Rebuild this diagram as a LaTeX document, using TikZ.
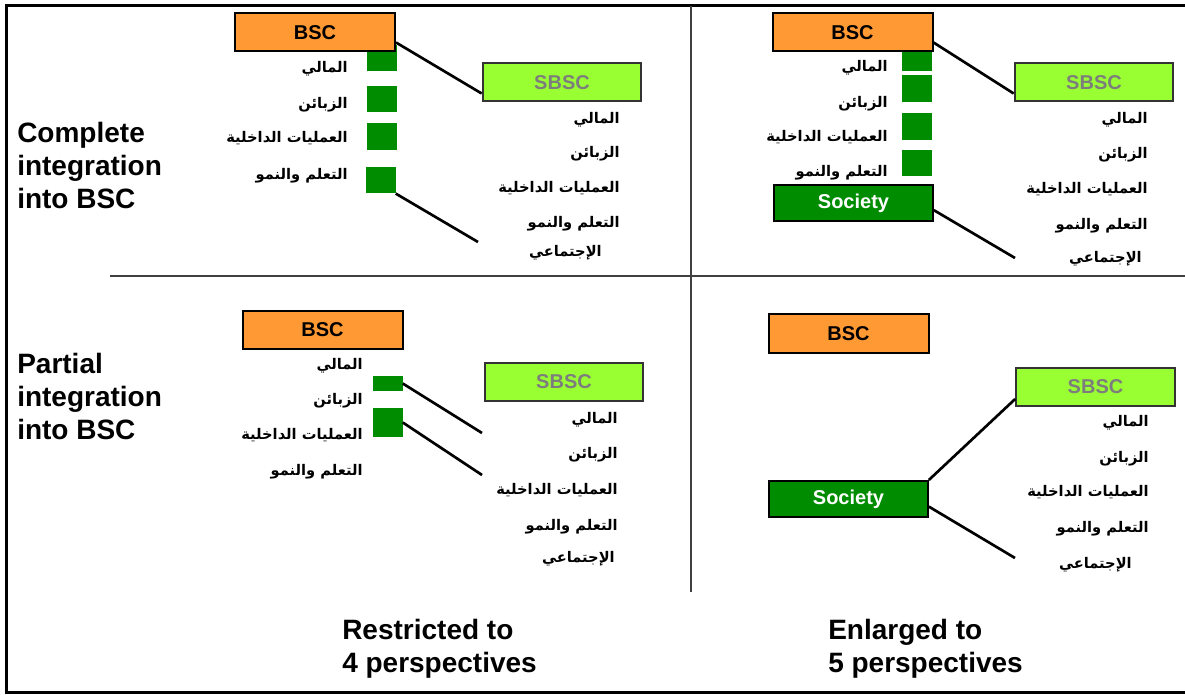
\documentclass[tikz,border=0pt]{standalone}
\usepackage{fontspec}
\setmainfont{Liberation Sans}
\newfontfamily\arabicfont[Script=Arabic]{DejaVu Sans}
\TeXXeTstate=1
\usepackage{xcolor}
\usepackage{tikz}
\usetikzlibrary{calc}

\definecolor{bscorange}{RGB}{255,153,51}
\definecolor{sbscgreen}{RGB}{153,255,51}
\definecolor{persgreen}{RGB}{0,140,0}
\definecolor{sbsctext}{RGB}{125,125,125}

\begin{document}
\begin{tikzpicture}[x=0.75pt,y=0.75pt,yscale=-1,xscale=1,
 bscbox/.style={draw=black,line width=1.5pt,fill=bscorange,minimum width=120pt,minimum height=28.5pt,inner sep=0pt,font=\bfseries\fontsize{15}{18}\selectfont},
 sbscbox/.style={draw=black!80,line width=1.5pt,fill=sbscgreen,text=sbsctext,minimum width=119pt,minimum height=28.5pt,inner sep=0pt,font=\bfseries\fontsize{15}{18}\selectfont},
 socbox/.style={draw=black,line width=1.5pt,fill=persgreen,text=white,minimum width=119pt,minimum height=27pt,inner sep=0pt,font=\bfseries\fontsize{15}{18}\selectfont},
 persq/.style={fill=persgreen,inner sep=0pt,minimum width=22.5pt,minimum height=20pt},
 arlabel/.style={anchor=east,inner sep=0pt,yshift=-1.5pt,font=\arabicfont\bfseries\fontsize{11}{13}\selectfont},
 rowlabel/.style={anchor=north west,inner sep=0pt,align=left,font=\bfseries\fontsize{21}{24.75}\selectfont},
 conn/.style={line width=2pt},
 sep/.style={draw=black!75,line width=1.5pt}]

\useasboundingbox (0,0) rectangle (1185,695);

% frame and quadrants
\draw [line width=2.25pt] (1185,6) -- (6,6) -- (6,692.5) -- (1185,692.5) ;
\draw [sep] (110,276.5) -- (1185,276.5) ;
\draw [sep] (691.3,6) -- (691.3,592) ;

% row and column titles
\draw (17,122) node (rowA) [rowlabel] {Complete\\integration\\into BSC};
\draw (17,353) node (rowB) [rowlabel] {Partial\\integration\\into BSC};
\draw (342,619) node (colA) [rowlabel] {Restricted to\\4 perspectives};
\draw (828,619) node (colB) [rowlabel] {Enlarged to\\5 perspectives};

% complete / restricted
\draw (381.5,58) node (sqA1) [persq] {};
\draw (381.5,99) node (sqA2) [persq] {};
\draw (381.5,136.5) node (sqA3) [persq] {};
\draw (380.5,180) node (sqA4) [persq] {};
\draw (315,32.5) node (bscA) [bscbox] {BSC};
\draw (562,82.5) node (sbscA) [sbscbox] {SBSC};

\draw (348,67) node [arlabel] {\beginR المالي\endR};
\draw (348,103) node [arlabel] {\beginR الزبائن\endR};
\draw (348,136) node [arlabel] {\beginR العمليات الداخلية\endR};
\draw (348,174) node [arlabel] {\beginR التعلم والنمو\endR};

\draw (620,118) node [arlabel] {\beginR المالي\endR};
\draw (620,152) node [arlabel] {\beginR الزبائن\endR};
\draw (620,186) node [arlabel] {\beginR العمليات الداخلية\endR};
\draw (620,222) node [arlabel] {\beginR التعلم والنمو\endR};
\draw (602,251) node [arlabel] {\beginR الإجتماعي\endR};

\coordinate (endA) at (478,242) ;
\draw [conn] ($(bscA.east)!0.5!(bscA.south east)$) -- ($(sbscA.west)!0.55!(sbscA.south west)$) ;
\draw [conn] (sqA4.south east) -- (endA) ;

% complete / enlarged
\draw (917,58) node (sqB1) [persq] {};
\draw (917,88.5) node (sqB2) [persq] {};
\draw (917,126.5) node (sqB3) [persq] {};
\draw (917,163) node (sqB4) [persq] {};
\draw (852.5,32.5) node (bscB) [bscbox] {BSC};
\draw (853.5,203.5) node (socB) [socbox] {Society};
\draw (1094,82.5) node (sbscB) [sbscbox] {SBSC};

\draw (888,66) node [arlabel] {\beginR المالي\endR};
\draw (888,102) node [arlabel] {\beginR الزبائن\endR};
\draw (888,135) node [arlabel] {\beginR العمليات الداخلية\endR};
\draw (888,171) node [arlabel] {\beginR التعلم والنمو\endR};

\draw (1148,118) node [arlabel] {\beginR المالي\endR};
\draw (1148,153) node [arlabel] {\beginR الزبائن\endR};
\draw (1148,187) node [arlabel] {\beginR العمليات الداخلية\endR};
\draw (1148,224) node [arlabel] {\beginR التعلم والنمو\endR};
\draw (1142,257) node [arlabel] {\beginR الإجتماعي\endR};

\coordinate (endB) at (1015,258) ;
\draw [conn] ($(bscB.east)!0.5!(bscB.south east)$) -- ($(sbscB.west)!0.55!(sbscB.south west)$) ;
\draw [conn] ($(socB.east)!0.35!(socB.south east)$) -- (endB) ;

% partial / restricted
\draw (387.5,383.5) node (sqC1) [persq,minimum height=11pt] {};
\draw (387.5,422.5) node (sqC2) [persq,minimum height=21.5pt] {};
\draw (322.5,330) node (bscC) [bscbox] {BSC};
\draw (564,382) node (sbscC) [sbscbox] {SBSC};

\draw (363,364) node [arlabel] {\beginR المالي\endR};
\draw (363,399) node [arlabel] {\beginR الزبائن\endR};
\draw (363,433) node [arlabel] {\beginR العمليات الداخلية\endR};
\draw (363,470) node [arlabel] {\beginR التعلم والنمو\endR};

\draw (618,418) node [arlabel] {\beginR المالي\endR};
\draw (618,453) node [arlabel] {\beginR الزبائن\endR};
\draw (618,488) node [arlabel] {\beginR العمليات الداخلية\endR};
\draw (618,525) node [arlabel] {\beginR التعلم والنمو\endR};
\draw (615,557) node [arlabel] {\beginR الإجتماعي\endR};

\coordinate (endC1) at (482,433) ;
\coordinate (endC2) at (482,475) ;
\draw [conn] (sqC1.east) -- (endC1) ;
\draw [conn] (sqC2.east) -- (endC2) ;

% partial / enlarged
\draw (848.5,333.5) node (bscD) [bscbox] {BSC};
\draw (1095.5,387) node (sbscD) [sbscbox] {SBSC};
\draw (848.5,499) node (socD) [socbox] {Society};

\draw (1149,421) node [arlabel] {\beginR المالي\endR};
\draw (1149,457) node [arlabel] {\beginR الزبائن\endR};
\draw (1149,490) node [arlabel] {\beginR العمليات الداخلية\endR};
\draw (1149,527) node [arlabel] {\beginR التعلم والنمو\endR};
\draw (1132,563) node [arlabel] {\beginR الإجتماعي\endR};

\coordinate (endD) at (1015,558) ;
\draw [conn] (socD.north east) -- ($(sbscD.west)!0.6!(sbscD.south west)$) ;
\draw [conn] ($(socD.east)!0.4!(socD.south east)$) -- (endD) ;

\end{tikzpicture}
\end{document}
